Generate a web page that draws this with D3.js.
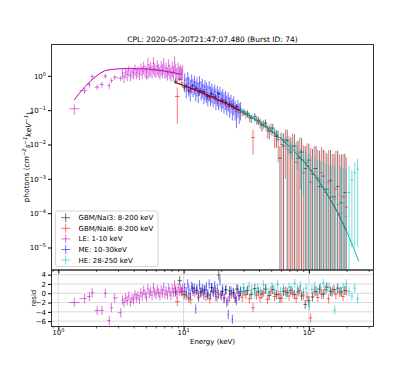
<!DOCTYPE html>
<html lang="en">
<head>
<meta charset="utf-8">
<title>CPL spectrum</title>
<script src="https://cdnjs.cloudflare.com/ajax/libs/d3/7.8.5/d3.min.js"></script>
<style>
  body { margin: 0; background: #fff; }
  text { font-family: "DejaVu Sans", sans-serif; fill: #000; }
</style>
</head>
<body>
<script>
const chartTitle = "CPL: 2020-05-20T21:47:07.480 (Burst ID: 74)";

// GBM/NaI3 (8-200 keV)
const nai3E = [8.6, 9.3, 10.1, 11.0, 11.8, 12.7, 13.6, 14.6, 15.6, 16.7, 17.9, 19.1, 20.4, 21.8, 23.3, 24.9, 26.6, 28.4, 30.3, 32.4, 34.6, 37.0, 39.5, 42.2, 45.1, 48.2, 51.5, 55.0, 58.8, 62.8, 67.1, 71.7, 76.6, 81.9, 87.5, 93.5, 99.9, 106.7, 114.0, 121.8, 130.2, 139.1, 148.6, 158.8, 169.7, 181.3, 193.7];
const nai3F = [0.70, 0.80, 0.47, 0.36, 0.52, 0.43, 0.37, 0.34, 0.25, 0.30, 0.24, 0.30, 0.19, 0.17, 0.15, 0.13, 0.125, 0.10, 0.089, 0.08, 0.058, 0.066, 0.05, 0.036, 0.042, 0.024, 0.03, 0.017, 0.004, 0.009, 0.013, 0.006, 0.009, 0.004, 0.006, 0.002, 0.0035, 0.0014, 0.002, 0.0006, 0.0012, 0.0005, 0.0009, 0.0003, 0.0006, 0.0002, 0.0004];
const nai3Err = [0.12, 0.08, 0.09, 0.07, 0.08, 0.07, 0.06, 0.06, 0.05, 0.05, 0.045, 0.03, 0.035, 0.03, 0.03, 0.025, 0.025, 0.02, 0.02, 0.018, 0.016, 0.016, 0.013, 0.012, 0.012, 0.01, 0.01, 0.009, 0.005, 0.012, 0.014, 0.01, 0.011, 0.009, 0.009, 0.007, 0.007, 0.006, 0.007, 0.006, 0.006, 0.005, 0.006, 0.005, 0.006, 0.005, 0.005];
const nai3Res = [0.3, 2.7, -0.3, -1.0, 1.1, 0.6, 0.3, 0.7, -0.4, 1.2, 0.5, 3.9, 0.4, 0.8, 0.5, 0.2, 0.9, 0.3, 0.4, 0.6, -0.3, 1.0, 0.3, -0.2, 0.9, -0.5, 0.8, -0.3, -1.1, 0.4, 0.2, 0.6, -0.3, 0.3, -0.6, -2.4, -1.6, -0.8, 0.4, 0.9, -0.2, 1.3, 0.4, 0.8, 1.1, 0.3, 0.6];

// GBM/NaI6 (8-200 keV)
const nai6E = [8.9, 9.7, 10.5, 11.4, 12.3, 13.2, 14.1, 15.1, 16.2, 17.3, 18.5, 19.8, 21.1, 22.6, 24.1, 25.8, 27.5, 29.4, 31.4, 33.5, 35.8, 38.2, 40.8, 43.6, 46.6, 49.8, 53.2, 56.9, 60.8, 64.9, 69.4, 74.1, 79.2, 84.6, 90.4, 96.6, 103.2, 110.3, 117.8, 125.9, 134.5, 143.7, 153.6, 164.1, 175.3, 187.3, 199.0];
const nai6F = [0.25, 0.62, 0.50, 0.40, 0.42, 0.33, 0.34, 0.27, 0.23, 0.25, 0.19, 0.18, 0.17, 0.13, 0.14, 0.11, 0.10, 0.085, 0.075, 0.062, 0.016, 0.052, 0.042, 0.040, 0.026, 0.030, 0.018, 0.014, 0.010, 0.014, 0.007, 0.009, 0.003, 0.006, 0.0015, 0.003, 0.0008, 0.002, 0.001, 0.0015, 0.0004, 0.0008, 0.0003, 0.0005, 0.0001, 0.0003, 0.00015];
const nai6Err = [0.21, 0.12, 0.10, 0.08, 0.08, 0.06, 0.06, 0.05, 0.05, 0.045, 0.04, 0.035, 0.035, 0.03, 0.03, 0.025, 0.022, 0.02, 0.018, 0.016, 0.011, 0.014, 0.013, 0.012, 0.011, 0.011, 0.01, 0.011, 0.012, 0.013, 0.011, 0.012, 0.009, 0.01, 0.008, 0.008, 0.007, 0.007, 0.006, 0.007, 0.006, 0.006, 0.005, 0.006, 0.005, 0.005, 0.004];
const nai6Res = [-1.8, 0.4, -0.6, -1.4, 0.1, -0.9, 0.5, -0.7, -1.2, 0.3, -0.8, -0.3, -1.0, -1.6, -0.2, -1.1, -0.5, -0.9, -0.3, -1.2, -3.1, -0.4, -1.0, 0.2, -1.3, 0.4, -0.7, -0.2, -1.0, 0.5, -0.6, 0.1, -1.1, 0.6, -0.4, -0.8, -5.3, 0.3, -0.9, -0.2, 0.8, -1.2, 0.4, -0.3, 0.2, -0.7, 0.5];

// LE (1-10 keV)
const leE = [1.34, 1.62, 1.77, 1.86, 2.04, 2.23, 2.37, 2.55, 2.65, 2.82, 3.15, 3.25, 3.35, 3.45, 3.55, 3.65, 3.76, 3.87, 3.98, 4.09, 4.2, 4.32, 4.44, 4.56, 4.68, 4.8, 4.93, 5.06, 5.19, 5.32, 5.46, 5.6, 5.74, 5.88, 6.02, 6.17, 6.32, 6.47, 6.62, 6.78, 6.94, 7.1, 7.26, 7.43, 7.6, 7.77, 7.94, 8.12, 8.3, 8.48, 8.66, 8.85, 9.04, 9.23, 9.42, 9.62, 9.82];
const leF = [0.11, 0.37, 0.56, 0.95, 0.47, 0.56, 0.98, 0.52, 0.73, 0.91, 0.85, 1.2, 0.95, 1.3, 1.1, 1.45, 1.05, 1.3, 1.2, 1.55, 1.25, 1.4, 1.15, 1.65, 1.35, 1.85, 1.45, 1.3, 2.1, 1.55, 1.75, 1.4, 2.3, 1.65, 1.45, 1.95, 1.55, 1.3, 1.85, 1.5, 2.2, 1.4, 1.65, 1.25, 2.0, 1.45, 1.2, 1.75, 1.35, 2.4, 1.5, 1.15, 1.65, 1.3, 1.45, 1.25, 1.4];
const leErr = [0.038, 0.07, 0.1, 0.15, 0.08, 0.1, 0.15, 0.1, 0.12, 0.15, 0.15, 0.4, 0.33, 0.45, 0.4, 0.52, 0.36, 0.45, 0.4, 0.58, 0.45, 0.52, 0.4, 0.65, 0.52, 0.78, 0.58, 0.52, 1.3, 0.65, 0.78, 0.58, 1.2, 0.72, 0.58, 0.9, 0.65, 0.52, 0.85, 0.65, 1.1, 0.58, 0.78, 0.52, 1.0, 0.65, 0.52, 0.85, 0.58, 1.3, 0.72, 0.52, 0.78, 0.58, 0.65, 0.52, 0.65];
const leRes = [-2.0, -1.15, -0.7, 0.1, -3.7, -3.7, 0.0, -5.9, -3.1, -1.0, -4.2, -1.5, -2.0, -1.0, -1.6, -0.6, -1.9, -1.1, -1.4, -0.3, -1.0, -0.5, -1.3, 0.1, -0.6, 0.6, -0.2, -0.8, 1.0, -0.1, 0.4, -0.5, 1.2, 0.2, -0.3, 0.8, 0.1, -0.6, 0.7, 0.0, 1.3, -0.2, 0.5, -0.4, 1.1, 0.3, -0.5, 1.0, 0.2, 1.8, 0.7, -0.2, 1.2, 0.4, 0.9, 0.3, 1.0];

// ME (10-30 keV)
const meE = [10.2, 10.5, 10.8, 11.0, 11.3, 11.6, 11.9, 12.2, 12.5, 12.8, 13.1, 13.4, 13.8, 14.1, 14.5, 14.8, 15.2, 15.6, 16.0, 16.4, 16.8, 17.2, 17.7, 18.1, 18.6, 19.0, 19.5, 20.0, 20.5, 21.0, 21.6, 22.1, 22.7, 23.3, 23.9, 24.5, 25.1, 25.8, 26.4, 27.1, 27.8, 28.5];
const meF = [0.75, 0.55, 0.82, 0.60, 0.48, 0.70, 0.52, 0.64, 0.45, 0.58, 0.40, 0.62, 0.44, 0.52, 0.36, 0.47, 0.40, 0.33, 0.44, 0.31, 0.38, 0.29, 0.35, 0.26, 0.32, 0.24, 0.30, 0.22, 0.26, 0.20, 0.23, 0.17, 0.21, 0.15, 0.18, 0.13, 0.16, 0.12, 0.09, 0.13, 0.10, 0.11];
const meErr = [0.42, 0.33, 0.45, 0.35, 0.3, 0.4, 0.28, 0.36, 0.27, 0.33, 0.24, 0.36, 0.25, 0.3, 0.21, 0.28, 0.24, 0.2, 0.26, 0.18, 0.22, 0.17, 0.2, 0.16, 0.19, 0.14, 0.18, 0.13, 0.15, 0.12, 0.13, 0.1, 0.12, 0.09, 0.1, 0.08, 0.09, 0.07, 0.06, 0.07, 0.06, 0.06];
const meRes = [1.2, 0.3, 2.0, 0.8, -0.2, 1.5, 0.4, 1.1, -3.4, 0.9, -0.6, 1.8, 0.1, 1.0, -0.4, 0.8, 1.4, -0.1, 2.0, -0.3, 1.2, 0.2, 1.6, -0.7, 1.0, -0.2, 2.6, -0.5, 0.9, -1.2, 0.6, -2.0, -4.6, -0.8, 0.5, -5.6, 0.0, -1.0, -1.6, 0.8, -0.6, 0.4];

// HE (28-250 keV)
const heE = [28.5, 30.0, 31.6, 33.3, 35.1, 37.0, 39.0, 41.1, 43.3, 45.6, 48.1, 50.7, 53.4, 56.3, 59.3, 62.5, 65.9, 69.4, 73.2, 77.1, 81.3, 85.7, 90.3, 95.1, 100.3, 105.7, 111.4, 117.4, 123.7, 130.4, 137.4, 144.8, 152.6, 160.8, 169.5, 178.7, 188.3, 198.5, 209.2, 220.5, 232.4, 244.9];
const heF = [0.10, 0.092, 0.080, 0.074, 0.063, 0.058, 0.05, 0.046, 0.040, 0.035, 0.031, 0.025, 0.023, 0.019, 0.016, 0.013, 0.012, 0.0095, 0.008, 0.0068, 0.0055, 0.0040, 0.0036, 0.003, 0.0024, 0.0018, 0.0016, 0.0011, 0.0009, 0.0008, 0.0005, 0.0004, 0.0003, 0.00025, 0.00018, 0.0002, 0.0001, 0.00008, 0.0004, 0.0009, 0.0015, 0.0019];
const heErr = [0.02, 0.018, 0.016, 0.015, 0.014, 0.013, 0.012, 0.011, 0.01, 0.009, 0.008, 0.008, 0.007, 0.0065, 0.006, 0.0055, 0.005, 0.0045, 0.0042, 0.004, 0.0037, 0.0035, 0.0033, 0.0031, 0.0029, 0.0027, 0.0026, 0.0025, 0.0024, 0.0024, 0.0023, 0.0022, 0.0022, 0.0021, 0.0021, 0.0021, 0.002, 0.002, 0.002, 0.00089, 0.00149, 0.00189];
const heRes = [0.6, 1.2, 0.3, 1.5, 0.8, -0.2, 1.1, 0.5, 1.8, 0.9, 0.2, 1.4, 0.7, 1.9, 0.4, 1.0, -0.3, 1.3, 0.6, 2.1, 0.9, 1.6, 0.2, 1.1, -2.8, 0.8, 1.5, 0.3, 1.2, 2.2, 0.7, 1.4, 0.1, -3.6, 0.9, 0.5, 1.3, 2.0, 0.4, -0.6, 1.1, -1.2];

// model curves (CPL)
const leModelE = [1.34, 1.45, 1.55, 1.64, 1.8, 1.97, 2.15, 2.37, 2.65, 3.03, 3.5, 4.2, 5.27, 6.2, 7.2, 8.3, 9.7];
const leModelF = [0.2, 0.29, 0.39, 0.49, 0.7, 0.92, 1.18, 1.43, 1.53, 1.6, 1.62, 1.62, 1.57, 1.47, 1.36, 1.23, 1.09];
const gbmModelE = [8.5, 9, 10, 11, 12, 13, 14, 15, 16, 18, 20, 22, 25, 28, 30, 33, 36, 40, 45, 50, 55, 60, 65, 70, 75, 80, 90, 100, 110, 120, 135, 150, 165, 175, 190, 200];
const gbmModelF = [0.648, 0.602, 0.523, 0.458, 0.405, 0.361, 0.324, 0.292, 0.264, 0.218, 0.183, 0.155, 0.122, 0.0981, 0.0853, 0.0697, 0.0574, 0.0448, 0.0333, 0.0251, 0.0191, 0.0146, 0.0113, 0.00876, 0.00684, 0.00536, 0.00334, 0.0021, 0.00134, 0.000857, 0.000445, 0.000235, 0.000125, 0.0000824, 0.0000444, 0.0000295];
const heModelE = [28, 30, 33, 36, 40, 45, 50, 55, 60, 65, 70, 75, 80, 90, 100, 110, 120, 135, 150, 165, 175, 190, 200, 225, 250];
const heModelF = [0.0981, 0.0853, 0.0697, 0.0574, 0.0448, 0.0333, 0.0251, 0.0191, 0.0146, 0.0113, 0.00876, 0.00684, 0.00536, 0.00334, 0.0021, 0.00134, 0.000857, 0.000445, 0.000235, 0.000125, 0.0000824, 0.0000444, 0.0000295, 0.0000107, 0.00000396];

const legendLabels = ["GBM/NaI3: 8-200 keV", "GBM/NaI6: 8-200 keV", "LE: 1-10 keV", "ME: 10-30keV", "HE: 28-250 keV"];
const seriesColors = ["#000000", "#ff0000", "#bf00bf", "#0000ff", "#00bfbf"];
const yTickExp = [0, -1, -2, -3, -4, -5];
const xTickExp = [0, 1, 2];
const residTicks = [4, 2, 0, -2, -4, -6];

const width = 415, height = 374;
const pLeft = 51.5, pRight = 373.5, pTop = 44.5, pMid = 270, pBottom = 326.5;

const svg = d3.select("body").append("svg")
  .attr("width", width).attr("height", height);

const x = d3.scaleLog().domain([0.882, 327.9]).range([pLeft, pRight]);
const y = d3.scaleLog().domain([8.18, 2.21e-6]).range([pTop, pMid]);
const r = d3.scaleLinear().domain([5.0, -7.15]).range([pMid, pBottom]);

const defs = svg.append("defs");
defs.append("clipPath").attr("id", "clipMain")
  .append("rect").attr("x", pLeft).attr("y", pTop).attr("width", pRight - pLeft).attr("height", pMid - pTop);
defs.append("clipPath").attr("id", "clipRes")
  .append("rect").attr("x", pLeft).attr("y", pMid).attr("width", pRight - pLeft).attr("height", pBottom - pMid);

// residual grid
const grid = svg.append("g").attr("clip-path", "url(#clipRes)");
grid.selectAll("line.h").data(residTicks).join("line")
  .attr("x1", pLeft).attr("x2", pRight)
  .attr("y1", d => r(d)).attr("y2", d => r(d))
  .attr("stroke", "#d0d0d0").attr("stroke-width", 0.8);
grid.selectAll("line.v").data(xTickExp).join("line")
  .attr("x1", d => x(Math.pow(10, d))).attr("x2", d => x(Math.pow(10, d)))
  .attr("y1", pMid).attr("y2", pBottom)
  .attr("stroke", "#d0d0d0").attr("stroke-width", 0.8);

const series = [
  { E: nai3E, F: nai3F, err: nai3Err, res: nai3Res, color: seriesColors[0] },
  { E: nai6E, F: nai6F, err: nai6Err, res: nai6Res, color: seriesColors[1] },
  { E: leE, F: leF, err: leErr, res: leRes, color: seriesColors[2] },
  { E: meE, F: meF, err: meErr, res: meRes, color: seriesColors[3] },
  { E: heE, F: heF, err: heErr, res: heRes, color: seriesColors[4] }
];

// bin edges half way (in log) between neighbouring energies
function binEdges(E) {
  return E.map((e, i) => {
    const prev = i > 0 ? E[i - 1] : e * e / E[i + 1];
    const next = i < E.length - 1 ? E[i + 1] : e * e / E[i - 1];
    return [Math.sqrt(prev * e), Math.sqrt(e * next)];
  });
}

const mainG = svg.append("g").attr("clip-path", "url(#clipMain)");
const resG = svg.append("g").attr("clip-path", "url(#clipRes)");

series.forEach(s => {
  const edges = binEdges(s.E);
  const pts = s.E.map((e, i) => ({ e, f: s.F[i], err: s.err[i], res: s.res[i], lo: edges[i][0], hi: edges[i][1] }));
  const g = mainG.append("g").attr("stroke", s.color).attr("stroke-opacity", 0.55).attr("stroke-width", 1);
  g.selectAll("line.v").data(pts).join("line")
    .attr("x1", d => x(d.e)).attr("x2", d => x(d.e))
    .attr("y1", d => y(d.f + d.err))
    .attr("y2", d => d.f - d.err > 0 ? y(d.f - d.err) : pMid + 5);
  g.selectAll("line.h").data(pts).join("line")
    .attr("x1", d => x(d.lo)).attr("x2", d => x(d.hi))
    .attr("y1", d => y(d.f)).attr("y2", d => y(d.f));

  const gr = resG.append("g").attr("stroke", s.color).attr("stroke-opacity", 0.55).attr("stroke-width", 1);
  gr.selectAll("line.v").data(pts).join("line")
    .attr("x1", d => x(d.e)).attr("x2", d => x(d.e))
    .attr("y1", d => r(d.res + 1)).attr("y2", d => r(d.res - 1));
  gr.selectAll("line.h").data(pts).join("line")
    .attr("x1", d => x(d.lo)).attr("x2", d => x(d.hi))
    .attr("y1", d => r(d.res)).attr("y2", d => r(d.res));
});

// model lines
const line = d3.line().x(d => x(d[0])).y(d => y(d[1]));
const models = [
  { E: leModelE, F: leModelF, color: "#bf00bf", op: 1 },
  { E: gbmModelE, F: gbmModelF, color: "#000000", op: 1 },
  { E: gbmModelE, F: gbmModelF, color: "#ff0000", op: 0.6 },
  { E: heModelE, F: heModelF, color: "#00bfbf", op: 1 }
];
models.forEach(m => {
  mainG.append("path")
    .attr("d", line(m.E.map((e, i) => [e, m.F[i]])))
    .attr("fill", "none").attr("stroke", m.color)
    .attr("stroke-opacity", m.op).attr("stroke-width", 1);
});

// frames
[[pTop, pMid], [pMid, pBottom]].forEach(([a, b]) => {
  svg.append("rect").attr("x", pLeft).attr("y", a).attr("width", pRight - pLeft).attr("height", b - a)
    .attr("fill", "none").attr("stroke", "#333").attr("stroke-width", 1);
});

// axes
const fs = 7;
const yAxis = svg.append("g").attr("transform", `translate(${pLeft},0)`)
  .call(d3.axisLeft(y).tickValues(yTickExp.map(k => Math.pow(10, k))).tickSize(3.5).tickFormat(""));
yAxis.select(".domain").remove();
yAxis.selectAll(".tick").each(function (d, i) {
  const t = d3.select(this).append("text")
    .attr("x", -5.5).attr("dy", "0.32em").attr("text-anchor", "end")
    .attr("fill", "#000").style("font-size", fs + "px");
  t.append("tspan").text("10");
  const k = yTickExp[i];
  t.append("tspan").attr("dy", "-0.55em").style("font-size", "5px").text(k < 0 ? "\u2212" + (-k) : k);
});

const rAxis = svg.append("g").attr("transform", `translate(${pLeft},0)`)
  .call(d3.axisLeft(r).tickValues(residTicks).tickSize(3.5).tickPadding(2)
    .tickFormat(d => d < 0 ? "\u2212" + (-d) : String(d)));
rAxis.select(".domain").remove();
rAxis.selectAll("text").style("font-size", fs + "px").attr("font-family", "DejaVu Sans");

const majorX = xTickExp.map(k => Math.pow(10, k));
const minorX = x.ticks().filter(v => !majorX.some(m => Math.abs(v - m) < 1e-9));
[pMid, pBottom].forEach(yy => {
  const gMaj = svg.append("g").attr("transform", `translate(0,${yy})`)
    .call(d3.axisBottom(x).tickValues(majorX).tickSize(3.5).tickFormat(""));
  gMaj.select(".domain").remove();
  const gMin = svg.append("g").attr("transform", `translate(0,${yy})`)
    .call(d3.axisBottom(x).tickValues(minorX).tickSize(2).tickFormat(""));
  gMin.select(".domain").remove();
  gMin.selectAll("line").attr("stroke-width", 0.6);
});

xTickExp.forEach(k => {
  const t = svg.append("text").attr("x", x(Math.pow(10, k))).attr("y", 335)
    .attr("text-anchor", "middle").style("font-size", fs + "px");
  t.append("tspan").text("10");
  t.append("tspan").attr("dy", "-0.55em").style("font-size", "5px").text(k);
});

// labels
svg.append("text").attr("x", (pLeft + pRight) / 2).attr("y", 42)
  .attr("text-anchor", "middle").style("font-size", "7.5px").text(chartTitle);
svg.append("text").attr("x", (pLeft + pRight) / 2).attr("y", 344)
  .attr("text-anchor", "middle").style("font-size", fs + "px").text("Energy (keV)");
svg.append("text").attr("transform", `translate(35.5,${(pMid + pBottom) / 2}) rotate(-90)`)
  .attr("text-anchor", "middle").style("font-size", fs + "px").text("resid");

const yl = svg.append("text").attr("transform", `translate(29,${(pTop + pMid) / 2}) rotate(-90)`)
  .attr("text-anchor", "middle").style("font-size", "7.4px");
yl.append("tspan").text("photons (");
[["cm", "\u22122"], ["s", "\u22121"], ["keV", "\u22121"]].forEach(([base, sup], i) => {
  yl.append("tspan").attr("dy", i === 0 ? null : "0.5em").style("font-style", "italic").text(base);
  yl.append("tspan").attr("dy", "-0.5em").style("font-size", "5.3px").style("font-style", "italic").text(sup);
});
yl.append("tspan").attr("dy", "0.5em").text(")");

// legend
const lg = svg.append("g");
lg.append("rect").attr("x", 55.5).attr("y", 211).attr("width", 102.5).attr("height", 55.5)
  .attr("rx", 2).attr("fill", "#fff").attr("fill-opacity", 0.8)
  .attr("stroke", "#cccccc").attr("stroke-width", 0.8);
legendLabels.forEach((lab, i) => {
  const cy = 217.7 + i * 10.6;
  const cx = 65.7;
  lg.append("line").attr("x1", cx - 4.5).attr("x2", cx + 4.5).attr("y1", cy).attr("y2", cy)
    .attr("stroke", seriesColors[i]).attr("stroke-opacity", 0.55);
  lg.append("line").attr("x1", cx).attr("x2", cx).attr("y1", cy - 4.5).attr("y2", cy + 4.5)
    .attr("stroke", seriesColors[i]).attr("stroke-opacity", 0.55);
  lg.append("text").attr("x", 78.5).attr("y", cy).attr("dy", "0.35em")
    .style("font-size", fs + "px").text(lab);
});
</script>
</body>
</html>
